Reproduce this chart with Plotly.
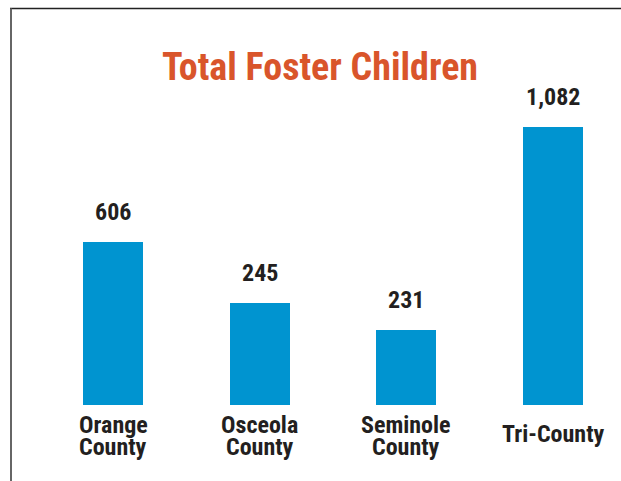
import plotly.graph_objects as go

# ---- data ----
categories = ["Orange County", "Osceola County", "Seminole County", "Tri-County"]
values = [606, 245, 231, 1082]            # printed labels
bar_heights = [635, 398, 292, 1082]       # bar lengths as drawn (not to scale in the original)
value_labels = ["606", "245", "231", "1,082"]

W, H = 621, 481
ML, MR, MT, MB = 30, 10, 40, 76
FONT = "Liberation Sans Narrow, Roboto Condensed, Arial Narrow, Liberation Sans, sans-serif"
TXT = "#231f20"
BLUE = "#0094d0"
ORANGE = "#d9552b"

x = list(range(len(categories)))

fig = go.Figure()
fig.add_trace(go.Bar(
    x=x, y=bar_heights, width=0.41,
    marker=dict(color=BLUE, line=dict(width=0)),
    hoverinfo="skip",
))

# value labels above bars
for xi, h, lab in zip(x, bar_heights, value_labels):
    fig.add_annotation(x=xi, y=h, xref="x", yref="y", text=f"<b>{lab}</b>",
                       showarrow=False, yanchor="bottom", yshift=14,
                       font=dict(family=FONT, size=24, color=TXT))

# category labels under bars (tight line spacing like the original)
LINE_GAP = 22
for xi, c in zip(x, categories):
    words = c.split(" ")
    n = len(words)
    first = -20 if n > 1 else -29
    for k, w in enumerate(words):
        fig.add_annotation(x=xi, y=0, xref="x", yref="y", text=f"<b>{w}</b>",
                           showarrow=False, yanchor="middle",
                           yshift=first - k * LINE_GAP,
                           font=dict(family=FONT, size=24, color=TXT))

pw = W - ML - MR
ph = H - MT - MB
def px(xp):
    return (xp - ML) / pw
def py(yp):
    return (H - MB - yp) / ph

# frame lines (top and left)
fig.add_shape(type="line", xref="paper", yref="paper",
              x0=px(10), x1=px(W + 5), y0=py(8.5), y1=py(8.5),
              line=dict(color="#222222", width=1.5))
fig.add_shape(type="line", xref="paper", yref="paper",
              x0=px(11), x1=px(11), y0=py(8.5), y1=py(H + 5),
              line=dict(color="#666666", width=2))

fig.update_layout(
    width=W, height=H,
    margin=dict(l=ML, r=MR, t=MT, b=MB),
    paper_bgcolor="white", plot_bgcolor="white",
    showlegend=False,
    title=dict(text="<b>Total Foster Children</b>", x=320 / W, xanchor="center",
               xref="container", yref="container", y=1 - 67 / H, yanchor="middle",
               font=dict(family=FONT, size=38, color=ORANGE)),
    xaxis=dict(range=[-0.566, 3.395], showticklabels=False, showgrid=False,
               zeroline=False, showline=False, fixedrange=True),
    yaxis=dict(range=[0, 1419], visible=False, showgrid=False, zeroline=False),
    bargap=0,
)

fig.write_html("out.html")
